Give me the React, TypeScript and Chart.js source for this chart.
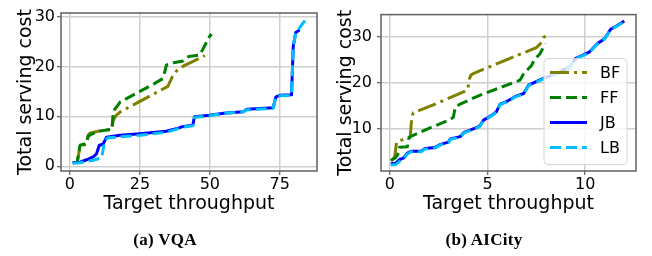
import React, { useEffect, useRef } from 'react';
import { Chart, registerables } from 'chart.js';

Chart.register(...registerables);

// ---------- DATA ----------
const seriesNames = ['BF', 'FF', 'JB', 'LB'];

// (a) VQA
const vqaBfX = [1, 2.6, 3.6, 5.9, 6.5, 7.1, 10, 14.9, 15.5, 16.5, 18, 25, 30, 35, 36.9, 38.7, 41, 44, 47.6, 48.2];
const vqaBfY = [0.7, 0.8, 4.0, 4.4, 6.2, 6.6, 7.0, 7.4, 9.2, 10.2, 10.9, 13.0, 14.5, 16.0, 18.3, 19.5, 20.2, 21.0, 22.0, 22.2];
const vqaFfX = [1, 2.6, 3.6, 5.9, 6.5, 8, 10, 15, 15.5, 18, 25, 30, 33.3, 34.5, 37.5, 40.5, 42.5, 46.4, 48.5, 49.2, 50.6];
const vqaFfY = [0.7, 0.8, 4.2, 4.6, 6.0, 6.5, 7.0, 7.4, 11.0, 12.9, 15.0, 16.5, 17.6, 20.3, 20.8, 21.1, 22.0, 22.3, 24.5, 25.5, 26.5];
const vqaJbX = [1, 3.6, 5.9, 8.3, 9.5, 10.5, 11.8, 13.1, 17.8, 25, 34.4, 38, 40, 43.9, 44.5, 49.8, 55, 61.9, 63.3, 72.6, 73.6, 75, 79.2, 79.8, 80.7, 82.1];
const vqaJbY = [0.7, 0.8, 1.3, 1.9, 2.5, 4.2, 4.4, 5.8, 6.2, 6.5, 7.0, 7.5, 7.9, 8.2, 9.9, 10.2, 10.6, 10.9, 11.4, 11.7, 13.9, 14.2, 14.3, 24.0, 26.8, 27.3];
const vqaLbX = [1, 3.6, 8.3, 11.3, 12.5, 13.5, 17.8, 25, 34.4, 38, 40, 43.9, 44.5, 49.8, 55, 61.9, 63.3, 72.6, 73.6, 75, 79.2, 79.8, 80.7, 82.8, 84.3];
const vqaLbY = [0.6, 0.7, 1.2, 1.7, 5.2, 5.7, 5.9, 6.2, 6.8, 7.4, 7.8, 8.1, 9.8, 10.1, 10.6, 10.9, 11.3, 11.6, 13.9, 14.1, 14.2, 24.0, 26.6, 28.3, 29.4];

// (b) AICity
const aiBfX = [0.1, 0.25, 0.35, 0.8, 1.05, 1.12, 1.2, 2.5, 3.8, 4.0, 4.05, 4.15, 4.3, 6.0, 7.5, 7.7, 7.85, 8.1];
const aiBfY = [2.9, 3.8, 7.0, 7.8, 8.2, 12.3, 13.4, 15.6, 18.0, 18.6, 20.5, 21.6, 22.0, 25.0, 27.6, 28.4, 29.8, 30.4];
const aiFfX = [0.05, 0.3, 0.45, 0.5, 0.9, 0.95, 1.05, 2, 3.07, 3.25, 3.35, 3.6, 4.6, 5.6, 6.66, 6.85, 7.25, 7.42, 7.68, 7.85, 7.94];
const aiFfY = [3.0, 3.6, 4.6, 5.9, 6.0, 7.6, 8.2, 10.0, 11.9, 12.4, 14.6, 15.3, 17.2, 18.8, 20.5, 21.9, 23.7, 25.1, 26.2, 27.6, 28.5];
const aiJbX = [0.05, 0.3, 0.5, 0.7, 0.9, 1.1, 1.6, 1.8, 2.3, 2.6, 3.0, 3.1, 3.6, 3.8, 4.4, 4.6, 4.8, 5.2, 5.45, 5.65, 6.0, 6.4, 6.85, 7.1, 7.8, 8.6, 9.2, 9.5, 10.2, 10.6, 11.0, 11.3, 11.6, 12.0];
const aiJbY = [2.3, 2.4, 3.2, 3.5, 4.6, 5.0, 5.0, 5.6, 5.8, 6.5, 7.0, 7.7, 8.2, 9.1, 10.1, 10.5, 11.8, 12.8, 13.6, 15.3, 15.9, 16.9, 17.6, 19.4, 20.8, 22.1, 23.4, 25.2, 26.6, 28.4, 29.6, 31.6, 32.3, 33.4];
const aiLbX = [0.05, 0.3, 0.5, 0.7, 0.9, 1.1, 1.6, 1.8, 2.3, 2.6, 3.0, 3.1, 3.6, 3.8, 4.4, 4.6, 4.8, 5.2, 5.45, 5.65, 6.0, 6.4, 6.85, 7.1, 7.8, 8.6, 9.2, 9.5, 10.2, 10.6, 11.0, 11.3, 11.6, 12.0];
const aiLbY = [2.0, 2.1, 2.8, 3.3, 4.4, 4.9, 4.9, 5.5, 5.7, 6.4, 6.9, 7.6, 8.1, 9.0, 10.0, 10.4, 11.7, 12.7, 13.5, 15.2, 15.8, 16.8, 17.5, 19.3, 20.7, 22.0, 23.3, 25.1, 26.5, 28.3, 29.5, 31.5, 32.2, 33.3];

const vqaXTicks = [0, 25, 50, 75];
const vqaYTicks = [0, 10, 20, 30];
const aiXTicks = [0, 5, 10];
const aiYTicks = [10, 20, 30];

const xTitle = 'Target throughput';
const yTitle = 'Total serving cost';
const captions = ['(a) VQA', '(b) AICity'];

// ---------- STYLES ----------
const seriesStyles = [
  { color: '#808000', dash: [19, 5, 3, 5] },
  { color: '#008000', dash: [11, 5] },
  { color: '#0000ff', dash: [] as number[] },
  { color: '#00bfff', dash: [11, 5] },
];
const FONT = "'DejaVu Sans', sans-serif";

function makeDataset(i: number, xs: number[], ys: number[]) {
  const st = seriesStyles[i];
  return {
    label: seriesNames[i],
    data: xs.map((x, k) => ({ x, y: ys[k] })),
    borderColor: st.color,
    backgroundColor: st.color,
    borderWidth: 3,
    borderDash: st.dash,
    borderCapStyle: 'butt',
    borderJoinStyle: 'round',
    pointRadius: 0,
    pointHoverRadius: 0,
    fill: false,
    tension: 0,
    order: 3 - i,
  };
}

const framePlugin = {
  id: 'frame',
  afterDraw(chart: any) {
    const { ctx, chartArea: a } = chart;
    ctx.save();
    ctx.strokeStyle = '#606060';
    ctx.lineWidth = 1.5;
    ctx.strokeRect(a.left, a.top, a.right - a.left, a.bottom - a.top);
    ctx.restore();
  },
};

const legendPlugin = {
  id: 'boxLegend',
  afterDatasetsDraw(chart: any, _args: any, opts: any) {
    if (!opts || !opts.show) return;
    const { ctx, chartArea: a } = chart;
    const left = a.right - 92;
    const top = a.top + 44;
    const w = 83;
    const h = 106;
    ctx.save();
    ctx.beginPath();
    const r = 4;
    ctx.moveTo(left + r, top);
    ctx.lineTo(left + w - r, top);
    ctx.quadraticCurveTo(left + w, top, left + w, top + r);
    ctx.lineTo(left + w, top + h - r);
    ctx.quadraticCurveTo(left + w, top + h, left + w - r, top + h);
    ctx.lineTo(left + r, top + h);
    ctx.quadraticCurveTo(left, top + h, left, top + h - r);
    ctx.lineTo(left, top + r);
    ctx.quadraticCurveTo(left, top, left + r, top);
    ctx.closePath();
    ctx.fillStyle = 'rgba(255,255,255,0.8)';
    ctx.fill();
    ctx.strokeStyle = '#d6d6d6';
    ctx.lineWidth = 1;
    ctx.stroke();
    seriesNames.forEach((name, i) => {
      const st = seriesStyles[i];
      const y = top + 14 + i * 25;
      ctx.beginPath();
      ctx.setLineDash(st.dash);
      ctx.lineCap = 'butt';
      ctx.strokeStyle = st.color;
      ctx.lineWidth = 3;
      ctx.moveTo(left + 6, y);
      ctx.lineTo(left + 43, y);
      ctx.stroke();
      ctx.setLineDash([]);
      ctx.fillStyle = '#000';
      ctx.font = `16px ${FONT}`;
      ctx.textBaseline = 'middle';
      ctx.textAlign = 'left';
      ctx.fillText(name, left + 56, y + 1);
    });
    ctx.restore();
  },
};

interface Panel {
  datasets: any[];
  xTicks: number[];
  yTicks: number[];
  xMin: number; xMax: number; yMin: number; yMax: number;
  padTop: number; padRight: number;
  yWidth: number; xHeight: number;
  yTitlePad: number; xTitlePad: number; yTickPad: number;
  legend: boolean;
}

function makeConfig(p: Panel): any {
  return {
    type: 'line',
    data: { datasets: p.datasets },
    plugins: [framePlugin, legendPlugin],
    options: {
      responsive: false,
      animation: false,
      events: [],
      layout: { padding: { left: 0, right: p.padRight, top: p.padTop, bottom: 0 } },
      plugins: {
        legend: { display: false },
        tooltip: { enabled: false },
        boxLegend: { show: p.legend },
      },
      scales: {
        x: {
          type: 'linear',
          min: p.xMin,
          max: p.xMax,
          afterBuildTicks: (s: any) => { s.ticks = p.xTicks.map((v) => ({ value: v })); },
          afterFit: (s: any) => { s.height = p.xHeight; },
          border: { display: false },
          grid: { color: '#cfcfcf', lineWidth: 1.5, tickLength: 4, tickColor: '#404040', tickWidth: 1 },
          ticks: { color: '#000', font: { family: FONT, size: 16 }, padding: 0, maxRotation: 0, autoSkip: false },
          title: { display: true, text: xTitle, color: '#000', font: { family: FONT, size: 19 }, padding: { top: 0, bottom: p.xTitlePad } },
        },
        y: {
          type: 'linear',
          min: p.yMin,
          max: p.yMax,
          afterBuildTicks: (s: any) => { s.ticks = p.yTicks.map((v) => ({ value: v })); },
          afterFit: (s: any) => { s.width = p.yWidth; },
          border: { display: false },
          grid: { color: '#cfcfcf', lineWidth: 1.5, tickLength: 4, tickColor: '#404040', tickWidth: 1 },
          ticks: { color: '#000', font: { family: FONT, size: 16 }, padding: p.yTickPad, autoSkip: false },
          title: { display: true, text: yTitle, color: '#000', font: { family: FONT, size: 19 }, padding: { top: p.yTitlePad, bottom: 0 } },
        },
      },
    },
  };
}

const vqaPanel: Panel = {
  datasets: [
    makeDataset(0, vqaBfX, vqaBfY),
    makeDataset(1, vqaFfX, vqaFfY),
    makeDataset(2, vqaJbX, vqaJbY),
    makeDataset(3, vqaLbX, vqaLbY),
  ],
  xTicks: vqaXTicks, yTicks: vqaYTicks,
  xMin: -3.2, xMax: 88.3, yMin: -0.95, yMax: 30.7,
  padTop: 13, padRight: 9, yWidth: 61, xHeight: 85,
  yTitlePad: 14.6, xTitlePad: 40.6, yTickPad: 2,
  legend: false,
};

const aiPanel: Panel = {
  datasets: [
    makeDataset(0, aiBfX, aiBfY),
    makeDataset(1, aiFfX, aiFfY),
    makeDataset(2, aiJbX, aiJbY),
    makeDataset(3, aiLbX, aiLbY),
  ],
  xTicks: aiXTicks, yTicks: aiYTicks,
  xMin: -0.45, xMax: 12.6, yMin: 0.7, yMax: 34.8,
  padTop: 12, padRight: 16, yWidth: 55, xHeight: 85,
  yTitlePad: 8.6, xTitlePad: 40.6, yTickPad: 5,
  legend: true,
};

export default function App() {
  const leftRef = useRef<HTMLCanvasElement>(null);
  const rightRef = useRef<HTMLCanvasElement>(null);
  useEffect(() => {
    const c1 = new Chart(leftRef.current as HTMLCanvasElement, makeConfig(vqaPanel));
    const c2 = new Chart(rightRef.current as HTMLCanvasElement, makeConfig(aiPanel));
    return () => { c1.destroy(); c2.destroy(); };
  }, []);
  const capStyle: React.CSSProperties = {
    position: 'absolute', top: 231, width: 200, textAlign: 'center',
    fontFamily: "'Liberation Serif', serif", fontWeight: 'bold', fontSize: 17,
    lineHeight: '17px', letterSpacing: '0.3px', color: '#000', whiteSpace: 'nowrap',
  };
  return (
    <div style={{ position: 'absolute', left: 0, top: 0, width: 652, height: 256, background: '#fff', overflow: 'hidden' }}>
      <canvas ref={leftRef} width={326} height={256} style={{ position: 'absolute', left: 0, top: 0 }} />
      <canvas ref={rightRef} width={326} height={256} style={{ position: 'absolute', left: 326, top: 0 }} />
      <div style={{ ...capStyle, left: 65 }}>{captions[0]}</div>
      <div style={{ ...capStyle, left: 384 }}>{captions[1]}</div>
    </div>
  );
}
